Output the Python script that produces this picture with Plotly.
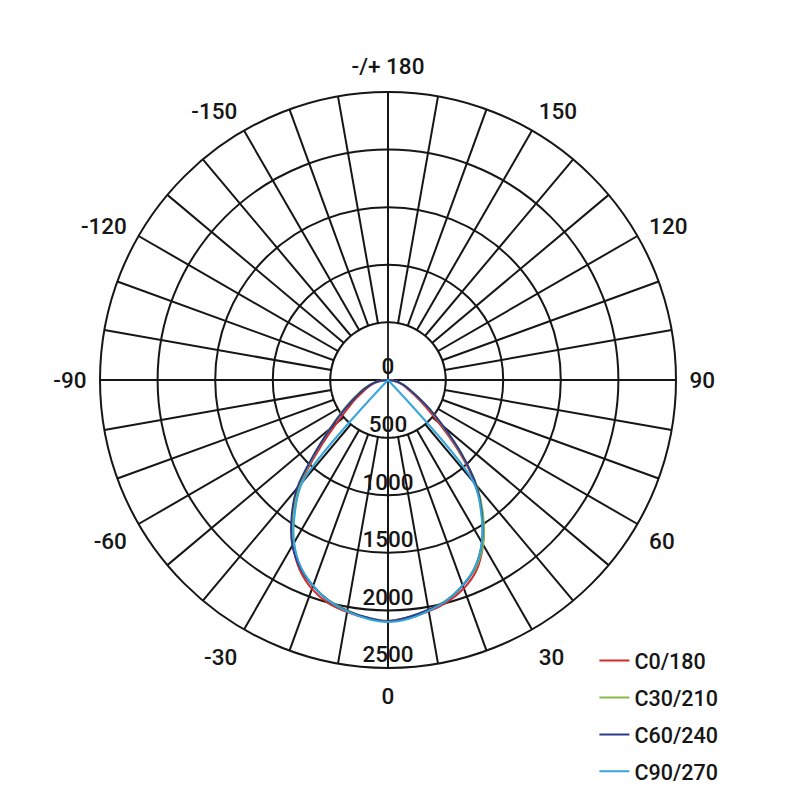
import plotly.graph_objects as go

# Gamma angles (deg), 0 = straight down
angles = list(range(-90, 95, 5))

# Luminous intensity (cd) per C-plane
c0_180 = [0, 40, 90, 140, 185, 240, 320, 420, 580, 840, 1180, 1420, 1650, 1815, 1930, 2005, 2045, 2075,
          2090,
          2070, 2040, 1995, 1925, 1820, 1650, 1430, 1180, 860, 570, 390, 270, 195, 150, 105, 65, 30, 0]
c30_210 = [0, 55, 115, 170, 225, 290, 380, 500, 660, 890, 1200, 1430, 1640, 1795, 1900, 1980, 2030, 2070,
           2095,
           2065, 2025, 1975, 1895, 1800, 1650, 1440, 1200, 890, 620, 440, 300, 215, 165, 115, 75, 35, 0]
c60_240 = [0, 50, 110, 160, 210, 275, 360, 480, 650, 900, 1230, 1460, 1660, 1800, 1905, 1985, 2035, 2070,
           2095,
           2065, 2025, 1980, 1900, 1790, 1630, 1420, 1190, 900, 630, 445, 305, 220, 165, 115, 75, 40, 0]
# C90/270 jumps straight from the centre to ~40 deg
c90_angles = list(range(-50, 55, 5))
c90_270 = [0, 0, 1150, 1410, 1630, 1790, 1900, 1985, 2040, 2080,
           2100,
           2080, 2035, 1980, 1895, 1790, 1630, 1410, 1150, 0, 0]

series_names = ["C0/180", "C30/210", "C60/240", "C90/270"]
series_angles = [angles, angles, angles, c90_angles]
series_values = [c0_180, c30_210, c60_240, c90_270]
series_colors = ["#d42b2b", "#84bb48", "#2b3b8c", "#34a6dc"]

radial_ticks = [0, 500, 1000, 1500, 2000, 2500]
radial_grid = [500, 1000, 1500, 2000]
angle_ticks = list(range(0, 360, 10))
angle_labels = {0: "0", 30: "30", 60: "60", 90: "90", 120: "120", 150: "150", 180: "-/+ 180",
                210: "-150", 240: "-120", 270: "-90", 300: "-60", 330: "-30"}

FONT = "Roboto"
INK = "#161616"
GRID_W = 1.8
FS = 22.5

fig = go.Figure()

# inner disk (spokes end at the 500 circle)
disk_theta = list(range(0, 361, 2))
fig.add_trace(go.Scatterpolar(
    theta=disk_theta, r=[radial_grid[0]] * len(disk_theta),
    mode="lines", fill="toself", fillcolor="white",
    line=dict(color=INK, width=GRID_W), hoverinfo="skip", showlegend=False))
# main cross through centre
fig.add_trace(go.Scatterpolar(
    theta=[0, 0, 180, None, 90, 90, 270],
    r=[radial_grid[0], 0, radial_grid[0], None, radial_grid[0], 0, radial_grid[0]],
    mode="lines", line=dict(color=INK, width=GRID_W), hoverinfo="skip", showlegend=False))
# radial value labels
fig.add_trace(go.Scatterpolar(
    theta=[0] * len(radial_ticks), r=radial_ticks,
    text=[str(v) for v in radial_ticks], mode="text", textposition="top center",
    textfont=dict(family=FONT, size=FS, color=INK, weight=500), hoverinfo="skip", showlegend=False))

for i, (name, th, vals, col) in enumerate(zip(series_names, series_angles, series_values, series_colors)):
    fig.add_trace(go.Scatterpolar(
        theta=th, r=vals, mode="lines", name=name,
        line=dict(color=col, width=2, shape="spline", smoothing=1.0), legendgroup=f"g{i}"))

fig.update_layout(
    width=800, height=800,
    paper_bgcolor="white", plot_bgcolor="white",
    margin=dict(l=0, r=0, t=0, b=0),
    font=dict(family=FONT, size=FS, color=INK, weight=500),
    polar=dict(
        domain=dict(x=[0.115, 0.835], y=[0.175, 0.895]),
        bgcolor="white",
        radialaxis=dict(range=[0, 2500], tickvals=radial_grid, showticklabels=False,
                        ticks="", showline=False, gridcolor=INK, gridwidth=GRID_W,
                        layer="below traces"),
        angularaxis=dict(rotation=-90, direction="counterclockwise",
                         tickvals=angle_ticks,
                         ticktext=[angle_labels.get(a, "") for a in angle_ticks],
                         ticks="outside", ticklen=8, tickcolor="rgba(0,0,0,0)",
                         showline=True, linecolor=INK, linewidth=2,
                         gridcolor=INK, gridwidth=GRID_W, layer="below traces",
                         tickfont=dict(family=FONT, size=FS, color=INK, weight=500)),
    ),
    showlegend=True,
    legend=dict(x=0.733, y=0.21, xanchor="left", yanchor="top",
                font=dict(family=FONT, size=21.5, color=INK, weight=500),
                tracegroupgap=6, itemwidth=30, bgcolor="rgba(0,0,0,0)"),
)

fig.write_html("out.html")
